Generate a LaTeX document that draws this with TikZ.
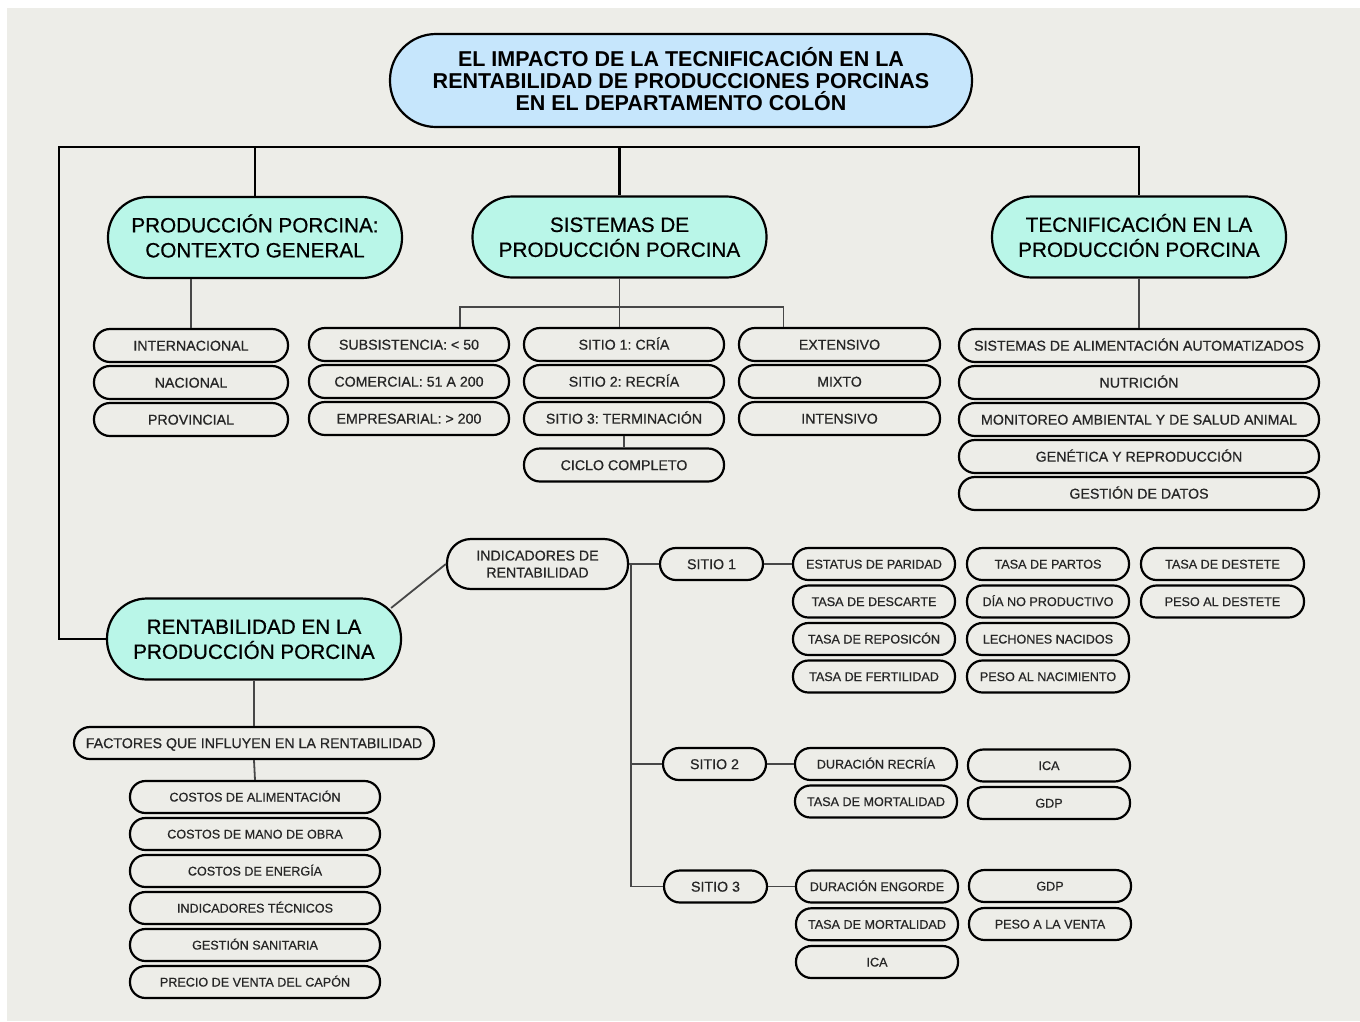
\documentclass[tikz,border=0pt]{standalone}
\usepackage{fontspec}
\setmainfont{Liberation Sans}[UprightFeatures={RawFeature={embolden=0.6}}]
\usetikzlibrary{positioning,calc}
\definecolor{paper}{HTML}{EDEDE8}
\definecolor{skyfill}{HTML}{C6E6FC}
\definecolor{mintfill}{HTML}{B9F6E8}
\definecolor{ink}{HTML}{262626}

\begin{document}
\frenchspacing
\begin{tikzpicture}[
    x=1pt, y=-1pt,
    every node/.style={draw=black, line width=2.2pt, inner sep=0pt, align=center, text=ink},
    titlebox/.style={fill=skyfill, rounded corners=46pt, minimum width=582pt, minimum height=93pt,
        font=\fontsize{21.5}{22}\selectfont\bfseries, text=black, text height=59.4pt, text depth=0pt},
    topic/.style={fill=mintfill, rounded corners=40pt, minimum width=294pt, minimum height=81pt,
        font=\fontsize{20.7}{25}\selectfont, text=black, text height=39.8pt, text depth=0pt},
    item/.style={rounded corners=16pt, minimum width=#1, minimum height=33pt,
        font=\fontsize{14.2}{17}\selectfont, text height=10.2pt, text depth=0pt},
    item/.default=200pt,
    leaf/.style={rounded corners=15.5pt, minimum width=#1, minimum height=32pt,
        font=\fontsize{12.6}{15}\selectfont, text height=9pt, text depth=0pt},
    leaf/.default=162pt,
    hub/.style={rounded corners=24pt, minimum width=181pt, minimum height=50pt,
        font=\fontsize{14.2}{17}\selectfont},
    trunk/.style={line width=2.7pt, draw=black},
    twig/.style={line width=1.8pt, draw=black!72}
]
    \useasboundingbox (0,0) rectangle (1360,1021);
    \fill[white] (0,0) rectangle (1360,1021);
    \fill[paper] (7,8) rectangle (1360,1021);

    \node[titlebox] (title) at (681,80.5) {EL IMPACTO DE LA TECNIFICACIÓN EN LA\\RENTABILIDAD DE PRODUCCIONES PORCINAS\\EN EL DEPARTAMENTO COLÓN};

    \node[topic] (contexto) at (255,237.5) {PRODUCCIÓN PORCINA:\\CONTEXTO GENERAL};
    \node[topic] (sistemas) at (619.5,237) {SISTEMAS DE\\PRODUCCIÓN PORCINA};
    \node[topic] (tecnif) at (1139,237) {TECNIFICACIÓN EN LA\\PRODUCCIÓN PORCINA};
    \node[topic] (rentab) at (254,639) {RENTABILIDAD EN LA\\PRODUCCIÓN PORCINA};

    \coordinate (bus) at (59,147);
    \draw[trunk] (rentab.west) -| (bus) -| (tecnif.north);
    \draw[trunk] (contexto.north) -- (contexto.north |- bus);
    \draw[trunk] (sistemas.north) -- (sistemas.north |- bus);

    \foreach \txt [count=\i] in {INTERNACIONAL, NACIONAL, PROVINCIAL}
        \node[item=194pt] (ctx\i) at (191,308.5+37*\i) {\txt};
    \foreach \txt [count=\i] in {SUBSISTENCIA: < 50, COMERCIAL: 51 A 200, EMPRESARIAL: > 200}
        \node[item] (escala\i) at (409,307.5+37*\i) {\txt};
    \foreach \txt [count=\i] in {SITIO 1: CRÍA, SITIO 2: RECRÍA, SITIO 3: TERMINACIÓN}
        \node[item] (etapa\i) at (624,307.5+37*\i) {\txt};
    \node[item] (ciclo) at (624,465) {CICLO COMPLETO};
    \foreach \txt [count=\i] in {EXTENSIVO, MIXTO, INTENSIVO}
        \node[item=201pt] (modo\i) at (839.5,307.5+37*\i) {\txt};
    \foreach \txt [count=\i] in {SISTEMAS DE ALIMENTACIÓN AUTOMATIZADOS, NUTRICIÓN, MONITOREO AMBIENTAL Y DE SALUD ANIMAL, GENÉTICA Y REPRODUCCIÓN, GESTIÓN DE DATOS}
        \node[item=360pt] (tec\i) at (1139,308.5+37*\i) {\txt};

    \draw[twig] (contexto.south -| ctx1.north) -- (ctx1.north);
    \coordinate (fork) at (620,307);
    \draw[twig] (sistemas.south) -- (sistemas.south |- etapa1.north);
    \draw[twig] ([xshift=51pt]escala1.north) |- (fork) -| ([xshift=-56pt]modo1.north);
    \draw[twig] (etapa3.south) -- (ciclo.north);
    \draw[twig] (tecnif.south) -- (tec1.north);

    \node[hub] (indic) at (537.5,564) {INDICADORES DE\\RENTABILIDAD};
    \node[item=103pt, minimum height=32pt] (sitio1) at (711.5,564) {SITIO 1};
    \node[item=103pt, minimum height=32pt] (sitio2) at (714.5,764) {SITIO 2};
    \node[item=103pt, minimum height=32pt] (sitio3) at (715.5,886.5) {SITIO 3};

    \foreach \txt [count=\i] in {ESTATUS DE PARIDAD, TASA DE DESCARTE, TASA DE REPOSICÓN, TASA DE FERTILIDAD}
        \node[leaf] (uno\i) at (874,526.5+37.5*\i) {\txt};
    \foreach \txt [count=\i] in {TASA DE PARTOS, DÍA NO PRODUCTIVO, LECHONES NACIDOS, PESO AL NACIMIENTO}
        \node[leaf] (unob\i) at (1048,526.5+37.5*\i) {\txt};
    \foreach \txt [count=\i] in {TASA DE DESTETE, PESO AL DESTETE}
        \node[leaf=163pt] (unoc\i) at (1222.5,526.5+37.5*\i) {\txt};

    \node[leaf] (dos1) at (876,764) {DURACIÓN RECRÍA};
    \node[leaf] (dos2) at (876,801.5) {TASA DE MORTALIDAD};
    \node[leaf] (dosb1) at (1049,765.5) {ICA};
    \node[leaf] (dosb2) at (1049,803) {GDP};

    \foreach \txt [count=\i] in {DURACIÓN ENGORDE, TASA DE MORTALIDAD, ICA}
        \node[leaf] (tres\i) at (877,848.75+37.75*\i) {\txt};
    \node[leaf] (tresb1) at (1050,886) {GDP};
    \node[leaf] (tresb2) at (1050,924) {PESO A LA VENTA};

    \node[item=360pt, minimum height=32pt] (factores) at (254,743) {FACTORES QUE INFLUYEN EN LA RENTABILIDAD};
    \foreach \txt [count=\i] in {COSTOS DE ALIMENTACIÓN, COSTOS DE MANO DE OBRA, COSTOS DE ENERGÍA, INDICADORES TÉCNICOS, GESTIÓN SANITARIA, PRECIO DE VENTA DEL CAPÓN}
        \node[leaf=250pt] (fac\i) at (255,760+37*\i) {\txt};

    \draw[twig] ([xshift=-11pt,yshift=31pt]rentab.east) -- (indic.west);
    \draw[twig] (indic.east) -- (sitio1.west);
    \draw[twig] ([xshift=2pt]indic.east) |- (sitio2.west);
    \draw[twig] ([xshift=2pt]indic.east) |- (sitio3.west);
    \draw[twig] (sitio1.east) -- (uno1.west);
    \draw[twig] (sitio2.east) -- (dos1.west);
    \draw[twig] (sitio3.east) -- (tres1.west);
    \draw[twig] (rentab.south) -- (factores.north);
    \draw[twig] (factores.south) -- (fac1.north);
\end{tikzpicture}
\end{document}
